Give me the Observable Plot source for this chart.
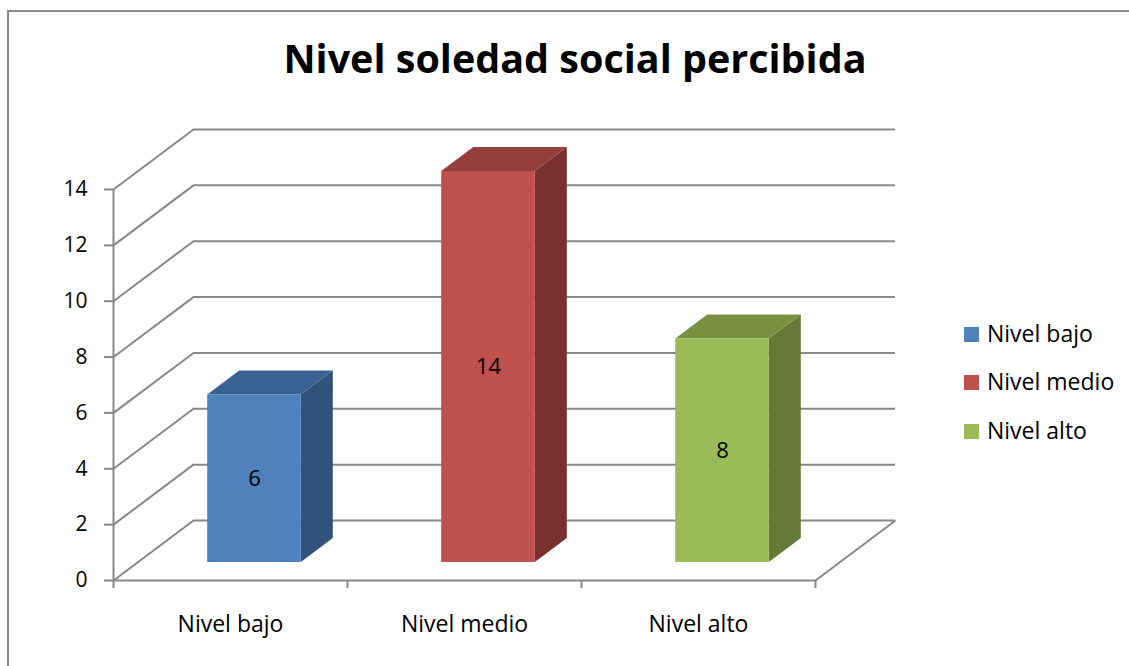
<!DOCTYPE html>
<html>
<head>
<meta charset="utf-8">
<script src="https://cdn.jsdelivr.net/npm/d3@7"></script>
<script src="https://cdn.jsdelivr.net/npm/@observablehq/plot@0.6"></script>
<style>
  html, body { margin: 0; padding: 0; background: #fff; }
  #wrap { position: relative; width: 1129px; height: 666px; overflow: hidden; font-family: "Open Sans", sans-serif; }
  #frame { position: absolute; left: 7px; top: 10px; right: -10px; bottom: -10px; border-left: 2.5px solid #8c8c8c; border-top: 2.5px solid #8c8c8c; }
  #title { position: absolute; left: 0; width: 1150px; top: 38px; text-align: center; font-size: 39.5px; line-height: 40px; font-weight: 700; color: #000; }
  #chart { position: absolute; left: 0; top: 0; }
  .leg { position: absolute; left: 964px; font-size: 23px; line-height: 23px; color: #000; white-space: nowrap; }
  .leg span.sw { position: absolute; left: 0; width: 15px; height: 15px; }
  .leg span.tx { position: absolute; left: 23px; top: 0; }
</style>
</head>
<body>
<div id="wrap">
  <div id="frame"></div>
  <div id="chart"></div>
  <div id="title"></div>
  <div id="legend"></div>
</div>
<script>
// ---- data ----
const categories = ["Nivel bajo", "Nivel medio", "Nivel alto"];
const values = [6, 14, 8];
const frontColors = ["#4F81BD", "#C0504D", "#9BBB59"];
const topColors = ["#3B6193", "#943F3C", "#779141"];
const sideColors = ["#31527A", "#7A302E", "#657A38"];
const yTicks = [0, 2, 4, 6, 8, 10, 12, 14];
const chartTitle = "Nivel soledad social percibida";

// ---- oblique projection (depth offsets in data units) ----
const DX = 80 / 234;   // category units per unit depth
const DY = 2.148;      // value units per unit depth
const D0 = 0.3, D1 = 0.7, HALF = 0.2;
const nCat = categories.length;
const yMax = 14;

const bars = categories.map((c, i) => ({cat: c, i, v: values[i], c: i + 0.5}));

// front faces
const frontFaces = bars.map(b => ({
  cat: b.cat, i: b.i,
  x1: b.c - HALF + D0 * DX, x2: b.c + HALF + D0 * DX,
  y1: D0 * DY, y2: b.v + D0 * DY
}));
// side faces (right), as areaY with two points per bar
const sideFaces = bars.flatMap(b => [D0, D1].map(d => ({
  cat: b.cat, i: b.i,
  x: b.c + HALF + d * DX, y1: d * DY, y2: b.v + d * DY
})));
// top faces, as areaX with two points per bar
const topFaces = bars.flatMap(b => [D0, D1].map(d => ({
  cat: b.cat, i: b.i,
  y: b.v + d * DY, x1: b.c - HALF + d * DX, x2: b.c + HALF + d * DX
})));

const grid = "#888";
const gw = 2;

const plot = Plot.plot({
  width: 1129,
  height: 666,
  marginLeft: 113,
  marginRight: 234,
  marginTop: 129,
  marginBottom: 86,
  style: {fontFamily: "Open Sans, sans-serif", background: "transparent", overflow: "visible"},
  x: {domain: [0, nCat + DX], axis: null},
  y: {domain: [0, yMax + DY], axis: null},
  marks: [
    // back wall gridlines
    Plot.ruleY(yTicks, {y: d => d + DY, x1: DX, x2: nCat + DX, stroke: grid, strokeWidth: gw}),
    // left wall diagonals
    Plot.link(yTicks, {x1: 0, y1: d => d, x2: DX, y2: d => d + DY, stroke: grid, strokeWidth: gw}),
    // front vertical axis
    Plot.ruleX([0], {y1: 0, y2: yMax, stroke: grid, strokeWidth: gw}),
    // floor front edge and right edge
    Plot.ruleY([0], {x1: 0, x2: nCat, stroke: grid, strokeWidth: gw}),
    Plot.link([0], {x1: nCat, y1: 0, x2: nCat + DX, y2: DY, stroke: grid, strokeWidth: gw}),
    // y axis
    Plot.axisY({ticks: yTicks, tickSize: 9, tickPadding: 17, stroke: grid, strokeWidth: gw, fill: "#000", fontSize: 21}),
    // x ticks
    Plot.axisX({ticks: d3.range(nCat + 1), tickFormat: () => "", tickSize: 8, stroke: grid, strokeWidth: gw}),
    // x labels
    Plot.axisX({ticks: bars.map(b => b.c), tickFormat: v => categories[Math.floor(v)], tickSize: 0, tickPadding: 35, fill: "#000", fontSize: 23}),
    // bars
    Plot.areaY(sideFaces, {x: "x", y1: "y1", y2: "y2", z: "cat", fill: d => sideColors[d.i]}),
    Plot.areaX(topFaces, {y: "y", x1: "x1", x2: "x2", z: "cat", fill: d => topColors[d.i]}),
    Plot.rect(frontFaces, {x1: "x1", x2: "x2", y1: "y1", y2: "y2", fill: d => frontColors[d.i]}),
    // data labels
    Plot.text(bars, {x: d => d.c + D0 * DX, y: d => d.v / 2 + D0 * DY, text: d => String(d.v), fontSize: 22, fill: "#000"})
  ]
});
document.getElementById("chart").appendChild(plot);
document.getElementById("title").textContent = chartTitle;

// legend
const legend = document.getElementById("legend");
const baselines = [342, 390.5, 439];
const asc = 0.888 * 23;
categories.forEach((c, i) => {
  const row = document.createElement("div");
  row.className = "leg";
  row.style.top = (baselines[i] - asc) + "px";
  const sw = document.createElement("span");
  sw.className = "sw";
  sw.style.background = frontColors[i];
  sw.style.top = (asc - 15) + "px";
  const tx = document.createElement("span");
  tx.className = "tx";
  tx.textContent = c;
  row.appendChild(sw);
  row.appendChild(tx);
  legend.appendChild(row);
});
</script>
</body>
</html>
